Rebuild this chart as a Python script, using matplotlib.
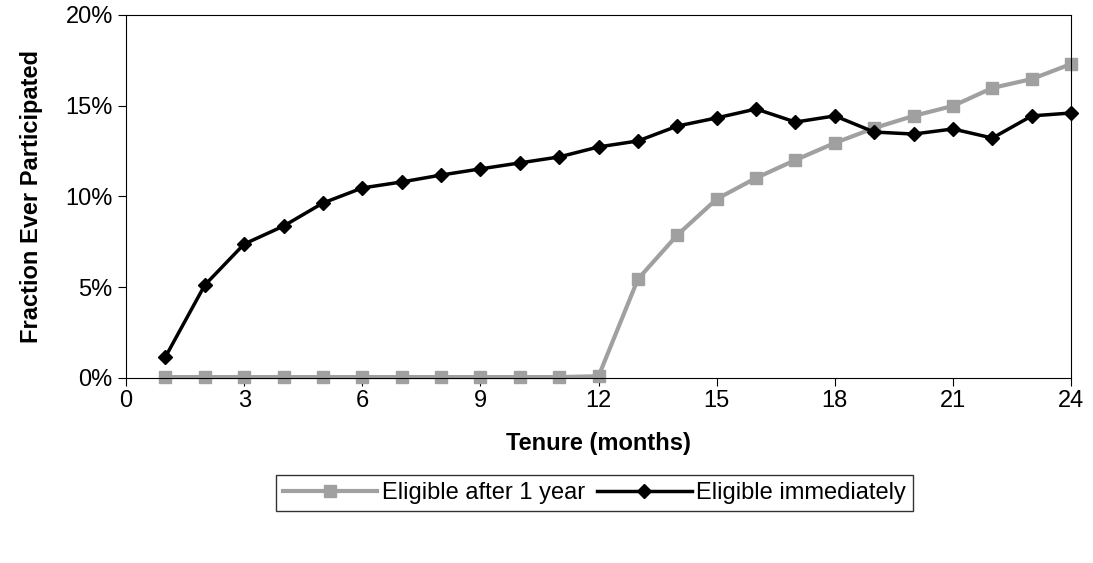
import matplotlib
matplotlib.use("Agg")
import matplotlib.pyplot as plt
from matplotlib.ticker import FuncFormatter

months = list(range(1, 25))
after_1yr = [0.05]*11 + [0.1, 5.45, 7.88, 9.86, 11.02, 12.01, 12.95, 13.77, 14.44, 14.99, 15.98, 16.47, 17.3]
immediately = [1.16, 5.12, 7.38, 8.37, 9.64, 10.47, 10.8, 11.18, 11.52, 11.85, 12.18, 12.73,
               13.06, 13.88, 14.33, 14.82, 14.10, 14.44, 13.55, 13.44, 13.72, 13.22, 14.44, 14.60]

plt.rcParams['font.family'] = ['Liberation Sans', 'DejaVu Sans']
fig = plt.figure(figsize=(10.93, 5.63), dpi=100)
ax = fig.add_axes([0.1153, 0.3286, 0.8647, 0.6448])
ax.plot(months, after_1yr, color='#a0a0a0', lw=3, marker='s', ms=9, label='Eligible after 1 year', clip_on=False)
ax.plot(months, immediately, color='black', lw=2.5, marker='D', ms=7, label='Eligible immediately', clip_on=False)
ax.set_xlim(0, 24)
ax.set_ylim(0, 20)
ax.set_xticks(range(0, 25, 3))
ax.set_yticks(range(0, 21, 5))
ax.yaxis.set_major_formatter(FuncFormatter(lambda v, p: f"{int(v)}%"))
ax.tick_params(labelsize=17, direction='out', length=6)
ax.tick_params(axis='x', pad=3)
ax.set_xlabel('Tenure (months)', fontsize=17, fontweight='bold', labelpad=14)
ax.set_ylabel('Fraction Ever Participated', fontsize=17, fontweight='bold', labelpad=16)
fig.legend(loc='center', bbox_to_anchor=(0.544, 0.124), ncol=2, fontsize=17, frameon=True,
           fancybox=False, edgecolor='black', handlelength=4, columnspacing=0.5, handletextpad=0.2,
           borderpad=0.3)
fig.savefig('out.png', dpi=100)
